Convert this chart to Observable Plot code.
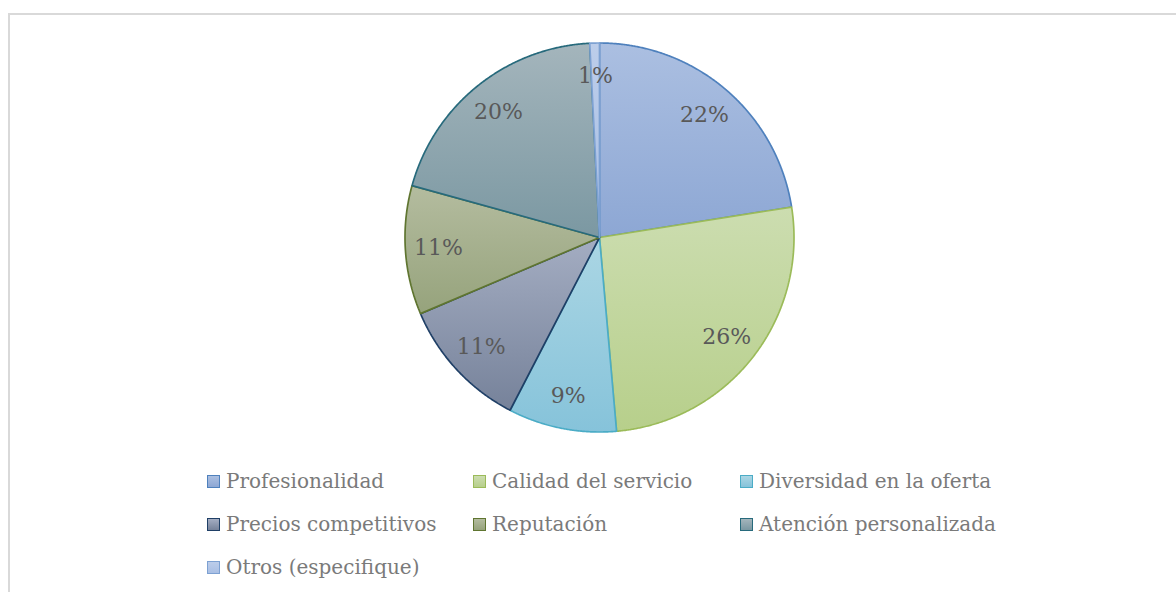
<!DOCTYPE html>
<html><head><meta charset="utf-8">
<script src="https://cdn.jsdelivr.net/npm/d3@7"></script>
<script src="https://cdn.jsdelivr.net/npm/@observablehq/plot@0.6"></script>
<style>
body{margin:0;background:#fff;}
#wrap{position:relative;width:1176px;height:592px;overflow:hidden;font-family:"DejaVu Serif",serif;background:#fff;}
#frame{position:absolute;left:8px;top:13px;width:1300px;height:700px;border:2px solid #d9d9d9;box-sizing:border-box;}
#chart{position:absolute;left:0;top:0;}
.leg{position:absolute;display:flex;align-items:center;height:24px;font-size:20px;color:#7a7a7a;white-space:nowrap;}
.sw{width:11px;height:11px;border:1px solid;margin-right:6px;flex:none;}
</style></head>
<body><div id="wrap"><div id="frame"></div><div id="chart"></div><div id="legend"></div></div>
<script>
// ---- data ----
const categories = ["Profesionalidad","Calidad del servicio","Diversidad en la oferta","Precios competitivos","Reputación","Atención personalizada","Otros (especifique)"];
const values = [22.5, 26.1, 9.0, 11.0, 10.7, 19.9, 0.8];
const valueLabels = ["22%","26%","9%","11%","11%","20%","1%"];
// ---- styles ----
const fillTop    = ["#abbfe1","#ccddb0","#abd6e4","#a4adc2","#b4bc9f","#a4b5bc","#bccdea"];
const fillBottom = ["#8da7d4","#b7cf8b","#86c3da","#76829a","#96a37c","#7b98a2","#a9bfe4"];
const strokes    = ["#4f81bd","#9bbb59","#4bacc6","#1f3f66","#5f7530","#276a7c","#7da1d2"];

const cx = 599, cy = 237, R = 194.5;
const rows = categories.map((c, i) => ({key: c, i, value: values[i], label: valueLabels[i]}));
const arcs = d3.pie().sort(null).value(d => d.value)(rows);

function slicePoints(p) {
  const pts = [{x: 0, y: 0}];
  const n = Math.max(4, Math.ceil((p.endAngle - p.startAngle) / 0.005));
  for (let j = 0; j <= n; j++) {
    const a = p.startAngle + (p.endAngle - p.startAngle) * j / n;
    pts.push({x: Math.sin(a), y: Math.cos(a)});
  }
  pts.push({x: 0, y: 0});
  return pts;
}

const sliceMarks = arcs.map((p, i) => Plot.line(slicePoints(p), {
  x: "x", y: "y", fill: `url(#grad${i})`, stroke: strokes[i], strokeWidth: 1.7, curve: "linear", strokeLinejoin: "miter"
}));

const labelData = arcs.map(p => {
  const m = (p.startAngle + p.endAngle) / 2;
  return {x: 0.83 * Math.sin(m), y: 0.83 * Math.cos(m), text: p.data.label};
});

const chart = Plot.plot({
  width: 1176, height: 460, margin: 0,
  style: {background: "transparent", fontFamily: "DejaVu Serif"},
  x: {domain: [-1, 1], range: [cx - R, cx + R], axis: null},
  y: {domain: [-1, 1], range: [cy + R, cy - R], axis: null},
  marks: [
    ...sliceMarks,
    Plot.text(labelData, {x: "x", y: "y", text: "text", fontSize: 22, fill: "#595959", fontFamily: "DejaVu Serif"})
  ]
});

const defs = d3.select(chart).insert("defs", ":first-child");
arcs.forEach((p, i) => {
  const g = defs.append("linearGradient").attr("id", `grad${i}`).attr("x1", 0).attr("y1", 0).attr("x2", 0).attr("y2", 1);
  g.append("stop").attr("offset", "0%").attr("stop-color", fillTop[i]);
  g.append("stop").attr("offset", "100%").attr("stop-color", fillBottom[i]);
});
document.getElementById("chart").appendChild(chart);

// legend
const colX = [207, 473, 740];
const rowY = [469, 512, 555];
const leg = document.getElementById("legend");
categories.forEach((c, i) => {
  const d = document.createElement("div");
  d.className = "leg";
  d.style.left = colX[i % 3] + "px";
  d.style.top = rowY[Math.floor(i / 3)] + "px";
  const s = document.createElement("span");
  s.className = "sw";
  s.style.borderColor = strokes[i];
  s.style.background = `linear-gradient(to bottom, ${fillTop[i]}, ${fillBottom[i]})`;
  d.appendChild(s);
  d.appendChild(document.createTextNode(c));
  leg.appendChild(d);
});
</script>
</body></html>
